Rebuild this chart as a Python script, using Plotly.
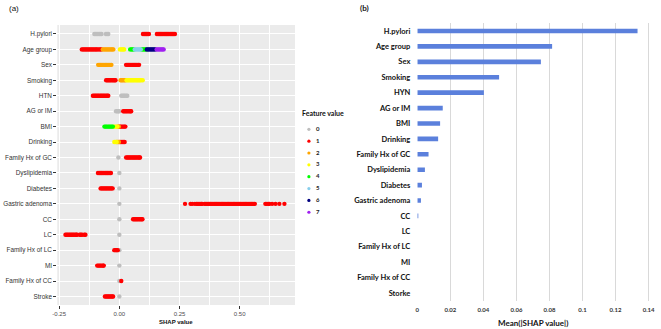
import plotly.graph_objects as go

# ---------------- Panel (a): SHAP beeswarm-like dot plot ----------------
features_a = ["H.pylori", "Age group", "Sex", "Smoking", "HTN", "AG or IM", "BMI",
              "Drinking", "Family Hx of GC", "Dyslipidemia", "Diabetes",
              "Gastric adenoma", "CC", "LC", "Family Hx of LC", "MI",
              "Family Hx of CC", "Stroke"]

# SHAP values per feature, grouped by feature value (0..7)
hpylori = {0: [-0.104, -0.099, -0.094, -0.089, -0.084, -0.079, -0.074, -0.056, -0.051, -0.046],
           1: [0.098, 0.103, 0.108, 0.113, 0.118, 0.123, 0.156, 0.161, 0.166, 0.171, 0.176,
               0.181, 0.186, 0.191, 0.196, 0.201, 0.206, 0.211, 0.216, 0.221, 0.226, 0.231]}
age_group = {1: [-0.156, -0.151, -0.146, -0.141, -0.136, -0.131, -0.126, -0.121, -0.116,
                 -0.111, -0.106, -0.101, -0.096, -0.092, -0.085, -0.080, -0.075],
             2: [-0.069, -0.064, -0.059, -0.054, -0.049, -0.044, -0.039, -0.034, -0.029, -0.025],
             3: [0.002, 0.007, 0.012, 0.017, 0.020],
             4: [0.045, 0.050, 0.055, 0.060, 0.092, 0.097, 0.102, 0.107, 0.111],
             5: [0.064, 0.069, 0.074, 0.079, 0.084, 0.089],
             6: [0.114, 0.119, 0.124, 0.129, 0.134, 0.139, 0.144, 0.149],
             7: [0.155, 0.160, 0.165, 0.170, 0.175, 0.180, 0.184]}
sex = {2: [-0.088, -0.083, -0.078, -0.073, -0.068, -0.063, -0.058, -0.053, -0.048, -0.043, -0.038, -0.033],
       1: [0.028, 0.033, 0.038, 0.043, 0.048, 0.053, 0.058, 0.063, 0.068, 0.073, 0.078, 0.082]}
smoking = {1: [-0.055, -0.050, -0.045, -0.040, -0.035, -0.030, -0.025, -0.020, -0.016],
           2: [0.005, 0.010, 0.015, 0.020, 0.025],
           3: [0.030, 0.035, 0.040, 0.045, 0.050, 0.055, 0.060, 0.065, 0.070, 0.075, 0.080,
               0.085, 0.090, 0.097]}
htn = {1: [-0.110, -0.105, -0.100, -0.095, -0.090, -0.085, -0.080, -0.075, -0.070, -0.065,
           -0.060, -0.055, -0.050, -0.046],
       0: [0.008, 0.013, 0.018, 0.023, 0.028, 0.033]}
ag_im = {0: [-0.014, -0.009, -0.004, -0.001],
         1: [0.016, 0.021, 0.026, 0.031, 0.036, 0.041, 0.046, 0.049]}
bmi = {4: [-0.062, -0.057, -0.052, -0.047, -0.042, -0.037, -0.032, -0.027],
       3: [-0.023, -0.018, -0.013, -0.008],
       2: [-0.006, -0.002],
       1: [0.001, 0.006, 0.011, 0.016, 0.021, 0.025]}
drinking = {3: [-0.021, -0.016, -0.011],
            2: [-0.010, -0.006, -0.002],
            1: [0.002, 0.007, 0.012, 0.017, 0.022]}
fhx_gc = {0: [-0.004],
          1: [0.028, 0.033, 0.038, 0.043, 0.048, 0.053, 0.058, 0.063, 0.068, 0.073, 0.078, 0.083, 0.086]}
dyslipidemia = {1: [-0.089, -0.084, -0.079, -0.074, -0.069, -0.064, -0.059, -0.054, -0.049,
                    -0.044, -0.039, -0.035],
                0: [0.0]}
diabetes = {1: [-0.078, -0.073, -0.068, -0.063, -0.058, -0.053, -0.048, -0.043, -0.038, -0.033, -0.028],
            0: [0.0]}
gastric_adenoma = {0: [0.0],
                   1: [0.273, 0.296, 0.303, 0.314, 0.321, 0.326, 0.331, 0.336, 0.341, 0.344,
                       0.354, 0.359, 0.364, 0.369, 0.374, 0.379, 0.384, 0.389, 0.394, 0.399,
                       0.404, 0.409, 0.414, 0.419, 0.424, 0.429, 0.434, 0.439, 0.444, 0.449,
                       0.454, 0.459, 0.464, 0.469, 0.474, 0.479, 0.484, 0.489, 0.494, 0.499,
                       0.504, 0.509, 0.514, 0.519, 0.524, 0.529, 0.534, 0.539, 0.544, 0.549,
                       0.554, 0.559, 0.563, 0.607, 0.613, 0.619, 0.624, 0.635, 0.649, 0.665, 0.686]}
cc = {0: [0.0],
      1: [0.057, 0.062, 0.067, 0.072, 0.077, 0.082, 0.087, 0.092, 0.096]}
lc = {1: [-0.224, -0.219, -0.214, -0.209, -0.204, -0.199, -0.194, -0.189, -0.184, -0.179, -0.176,
          -0.165, -0.160, -0.155, -0.146, -0.141],
      0: [0.0]}
fhx_lc = {1: [-0.021, -0.016, -0.011, -0.007], 0: [0.0]}
mi = {1: [-0.092, -0.087, -0.082, -0.077, -0.072, -0.067, -0.065], 0: [0.0]}
fhx_cc = {0: [0.0], 1: [0.008]}
stroke = {1: [-0.060, -0.055, -0.050, -0.045, -0.040, -0.035, -0.030, -0.026], 0: [0.0]}

feature_groups = [hpylori, age_group, sex, smoking, htn, ag_im, bmi, drinking, fhx_gc,
                  dyslipidemia, diabetes, gastric_adenoma, cc, lc, fhx_lc, mi, fhx_cc, stroke]

value_levels = [0, 1, 2, 3, 4, 5, 6, 7]
value_colors = ["#BEBEBE", "#FF0000", "#FFA500", "#FFFF00", "#00FF00", "#87CEEB", "#000080", "#A020F0"]

# ---------------- Panel (b): mean |SHAP| bar chart ----------------
features_b = ["H.pylori", "Age group", "Sex", "Smoking", "HYN", "AG or IM", "BMI", "Drinking",
              "Family Hx of GC", "Dyslipidemia", "Diabetes", "Gastric adenoma", "CC", "LC",
              "Family Hx of LC", "MI", "Family Hx of CC", "Storke"]
mean_abs_shap = [0.1333, 0.0816, 0.0748, 0.0495, 0.0403, 0.0154, 0.0138, 0.0126, 0.0068,
                 0.0046, 0.0028, 0.0022, 0.0006, 0.0, 0.0, 0.0, 0.0, 0.0]
bar_ticks = [0, 0.02, 0.04, 0.06, 0.08, 0.1, 0.12, 0.14]
bar_tick_text = ["0", "0.02", "0.04", "0.06", "0.08", "0.1", "0.12", "0.14"]

W, H = 661, 329
def px_x(p):
    return p / W
def px_y(p):
    return 1 - p / H

fig = go.Figure()

for lvl, col in zip(value_levels, value_colors):
    xs, ys = [], []
    for name, grp in zip(features_a, feature_groups):
        for v in grp.get(lvl, []):
            xs.append(v)
            ys.append(name)
    fig.add_trace(go.Scatter(x=xs, y=ys, mode="markers", xaxis="x", yaxis="y",
                             marker=dict(color=col, size=4.4, line=dict(width=0)),
                             showlegend=False, hoverinfo="x+y"))

# manual legend (ggplot style)
fig.add_trace(go.Scatter(x=[0.27] * len(value_levels), y=value_levels, mode="markers",
                         xaxis="x3", yaxis="y3",
                         marker=dict(color=value_colors, size=3.2), showlegend=False,
                         hoverinfo="skip"))
fig.add_trace(go.Scatter(x=[0.57] * len(value_levels), y=value_levels, mode="text",
                         text=[str(v) for v in value_levels], xaxis="x3", yaxis="y3",
                         textfont=dict(family="Lato", size=6, color="#222222", weight="bold"),
                         showlegend=False, hoverinfo="skip"))

fig.add_trace(go.Bar(x=mean_abs_shap, y=features_b, orientation="h", xaxis="x2", yaxis="y2",
                     marker=dict(color="#5B80DC", line=dict(width=0)), width=0.3,
                     showlegend=False))

fig.update_layout(
    width=W, height=H, margin=dict(l=0, r=0, t=0, b=0),
    paper_bgcolor="white", plot_bgcolor="white",
    xaxis=dict(domain=[px_x(53), px_x(294)], range=[-0.258, 0.73],
               tickvals=[-0.25, 0, 0.25, 0.5], ticktext=["-0.25", "0.00", "0.25", "0.50"],
               showgrid=True, gridcolor="white", gridwidth=1.1, zeroline=False,
               ticks="outside", ticklen=3, tickcolor="#333333", tickwidth=1,
               tickfont=dict(family="Liberation Sans", size=6, color="#4D4D4D"),
               minor=dict(tickvals=[-0.125, 0.125, 0.375, 0.625], showgrid=True,
                          gridcolor="white", gridwidth=0.5, ticks=""),
               anchor="y", fixedrange=True),
    yaxis=dict(domain=[px_y(305), px_y(25)], type="category", categoryarray=features_a,
               categoryorder="array", range=[17.55, -0.58],
               showgrid=True, gridcolor="white", gridwidth=1.1, zeroline=False,
               ticks="outside", ticklen=3, tickcolor="#333333", tickwidth=1,
               tickfont=dict(family="Liberation Sans", size=6.4, color="#333333"),
               anchor="x", fixedrange=True),
    xaxis2=dict(domain=[px_x(418), px_x(655)], range=[0, 0.1415], tickvals=bar_ticks,
                ticktext=bar_tick_text, showgrid=True, gridcolor="#D9D9D9", gridwidth=1,
                zeroline=False, ticks="", showline=False, ticklabelstandoff=4,
                tickfont=dict(family="Lato", size=6, color="#333333", weight="bold"),
                anchor="y2", fixedrange=True),
    yaxis2=dict(domain=[px_y(301), px_y(23)], type="category", categoryarray=features_b,
                categoryorder="array", range=[17.52, -0.52], showgrid=False, zeroline=False,
                ticks="", ticklabelstandoff=6,
                tickfont=dict(family="Lato", size=7.5, color="#111111", weight="bold"),
                anchor="x2", fixedrange=True),
    xaxis3=dict(domain=[px_x(300), px_x(330)], range=[0, 1], visible=False, anchor="y3"),
    yaxis3=dict(domain=[px_y(218.2), px_y(123.4)], range=[7.5, -0.5], visible=False, anchor="x3"),
    shapes=[
        dict(type="rect", xref="x domain", yref="y domain", x0=0, x1=1, y0=0, y1=1,
             fillcolor="#EBEBEB", line=dict(width=0), layer="below"),
    ],
    annotations=[
        dict(text="(a)", x=px_x(2), y=px_y(9), xref="paper", yref="paper", showarrow=False,
             xanchor="left", yanchor="middle",
             font=dict(family="Liberation Sans", size=8, color="#111111")),
        dict(text="(b)", x=px_x(358), y=px_y(8), xref="paper", yref="paper", showarrow=False,
             xanchor="left", yanchor="middle",
             font=dict(family="Lato", size=8, color="#111111", weight="bold")),
        dict(text="SHAP value", x=px_x(173), y=px_y(322), xref="paper", yref="paper",
             showarrow=False, xanchor="center", yanchor="middle",
             font=dict(family="Liberation Sans", size=6, color="#111111", weight="bold")),
        dict(text="Mean(|SHAP value|)", x=px_x(535), y=px_y(323), xref="paper", yref="paper",
             showarrow=False, xanchor="center", yanchor="middle",
             font=dict(family="Lato", size=8, color="#111111", weight="bold")),
        dict(text="Feature value", x=px_x(299), y=px_y(113), xref="paper", yref="paper",
             showarrow=False, xanchor="left", yanchor="middle",
             font=dict(family="Lato", size=7, color="#111111", weight="bold")),
    ],
)

fig.write_html("out.html")
